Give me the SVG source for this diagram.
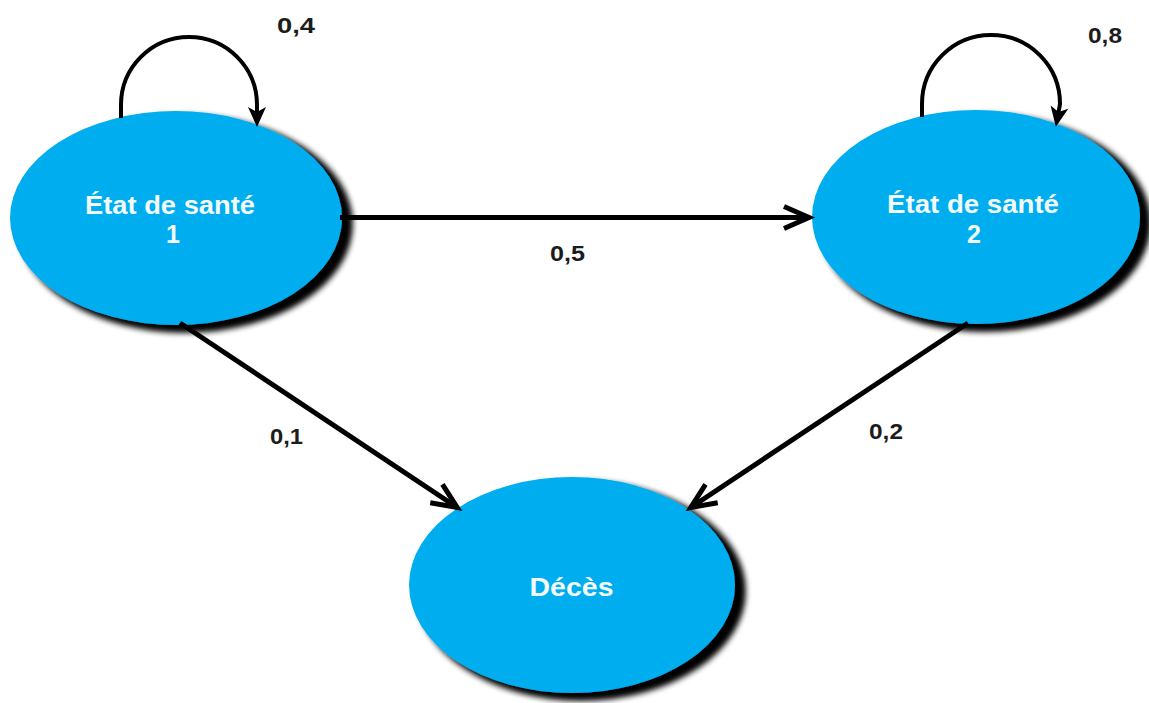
<svg xmlns="http://www.w3.org/2000/svg" width="1149" height="703" viewBox="0 0 1149 703">
  <style>
    .node { fill: #00adee; filter: url(#shadow); }
    .ntxt { font-family: "Liberation Sans", Arial, sans-serif; font-weight: bold; font-size: 25px; fill: #f2fbff; text-anchor: middle; }
    .lbl { font-family: "Liberation Sans", Arial, sans-serif; font-weight: bold; font-size: 22px; fill: #1c1c1c; text-anchor: middle; }
    .edge { fill: none; stroke: #000; stroke-width: 5; }
    .loop { fill: none; stroke: #000; stroke-width: 4; }
  </style>
  <defs>
    <filter id="shadow" x="-10%" y="-10%" width="125%" height="130%">
      <feGaussianBlur in="SourceAlpha" stdDeviation="3.5"/>
      <feOffset dx="9" dy="6" result="blur"/>
      <feMerge><feMergeNode/><feMergeNode/><feMergeNode in="SourceGraphic"/></feMerge>
    </filter>
    <!-- open chevron head for transitions between states -->
    <marker id="open" markerUnits="userSpaceOnUse" viewBox="-30 -14 34 28" refX="0" refY="0" markerWidth="34" markerHeight="28" orient="auto" overflow="visible">
      <path d="M-26,-11 L-1,0 L-26,11" fill="none" stroke="#000" stroke-width="5" stroke-linejoin="miter"/>
    </marker>
    <!-- filled head for self-transitions -->
    <marker id="solid" markerUnits="userSpaceOnUse" viewBox="-10 -10 24 20" refX="0" refY="0" markerWidth="24" markerHeight="20" orient="auto" overflow="visible">
      <path d="M12,0 L-8,-9 L-3,0 L-8,9 Z" fill="#000"/>
    </marker>
  </defs>

  <rect width="1149" height="703" fill="#fff"/>

  <g id="node-etat1">
    <ellipse class="node" cx="176" cy="218" rx="166" ry="107"/>
    <text class="ntxt" x="170" y="214" textLength="170" lengthAdjust="spacingAndGlyphs">État de santé</text>
    <text class="ntxt" x="173" y="243">1</text>
  </g>

  <g id="node-etat2">
    <ellipse class="node" cx="976" cy="217" rx="164" ry="107"/>
    <text class="ntxt" x="973" y="213" textLength="172" lengthAdjust="spacingAndGlyphs">État de santé</text>
    <text class="ntxt" x="974" y="243">2</text>
  </g>

  <g id="node-deces">
    <ellipse class="node" cx="572" cy="585" rx="163" ry="108"/>
    <text class="ntxt" x="571.5" y="596" textLength="84" lengthAdjust="spacingAndGlyphs">Décès</text>
  </g>

  <g id="connectors">
    <!-- self-transitions -->
    <path class="loop" d="M121,118 L121,105 A68,68 0 0 1 257,105 L257,115" marker-end="url(#solid)"/>
    <path class="loop" d="M922,117 L922,104 A69,69 0 0 1 1060,104 L1058,115" marker-end="url(#solid)"/>
    <!-- state 1 to state 2 -->
    <path class="edge" d="M340,217.5 L810,217.5" marker-end="url(#open)"/>
    <!-- states to death -->
    <path class="edge" d="M180,323 L458,508" marker-end="url(#open)"/>
    <path class="edge" d="M968,323 L690,508" marker-end="url(#open)"/>

    <text class="lbl" x="296" y="33" textLength="38" lengthAdjust="spacingAndGlyphs">0,4</text>
    <text class="lbl" x="1105" y="43" textLength="34" lengthAdjust="spacingAndGlyphs">0,8</text>
    <text class="lbl" x="567.5" y="261" textLength="35" lengthAdjust="spacingAndGlyphs">0,5</text>
    <text class="lbl" x="286.5" y="444" textLength="33" lengthAdjust="spacingAndGlyphs">0,1</text>
    <text class="lbl" x="886" y="439" textLength="34" lengthAdjust="spacingAndGlyphs">0,2</text>
  </g>
</svg>
